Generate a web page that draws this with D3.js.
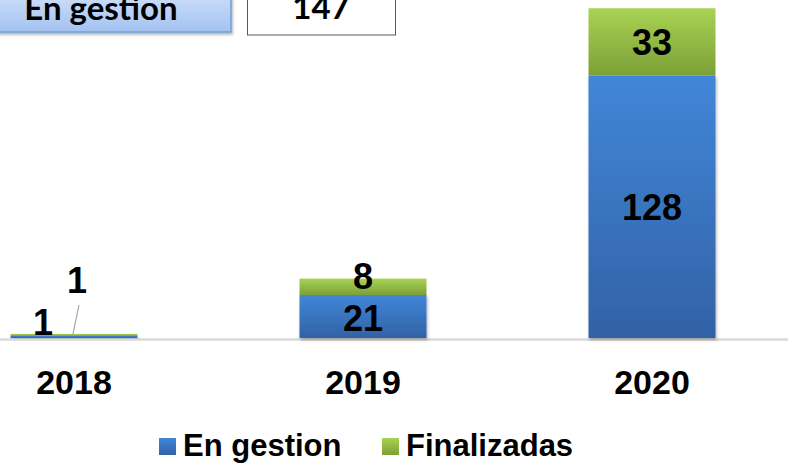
<!DOCTYPE html>
<html><head><meta charset="utf-8">
<script src="https://cdn.jsdelivr.net/npm/d3@7"></script>
<style>html,body{margin:0;padding:0;background:#fff;}svg{display:block;}</style>
</head><body>
<script>
const categories = ["2018", "2019", "2020"];
const enGestion = [1, 21, 128];
const finalizadas = [1, 8, 33];
const seriesNames = ["En gestion", "Finalizadas"];
const summaryLabel = "En gestion";
const summaryValue = 147;

const W = 788, H = 463;
const svg = d3.select("body").append("svg").attr("width", W).attr("height", H);
const defs = svg.append("defs");
function grad(id, c1, c2) {
  const g = defs.append("linearGradient").attr("id", id).attr("x1", 0).attr("y1", 0).attr("x2", 0).attr("y2", 1);
  g.append("stop").attr("offset", "0%").attr("stop-color", c1);
  g.append("stop").attr("offset", "100%").attr("stop-color", c2);
}
grad("gBlue", "#4186d8", "#3262a6");
grad("gGreen", "#a8d353", "#7d9f38");
grad("gBox", "#dce9fc", "#a3c2f1");
const sh = defs.append("filter").attr("id", "shadow").attr("x", "-10%").attr("y", "-10%").attr("width", "130%").attr("height", "130%");
sh.append("feDropShadow").attr("dx", 1).attr("dy", 2).attr("stdDeviation", 1.5).attr("flood-color", "#000").attr("flood-opacity", 0.3);

const x = d3.scalePoint().domain(categories).range([74, 652]);
const bw = 127;
const y = d3.scaleLinear().domain([0, 165]).range([338, 0]);

// baseline
svg.append("line").attr("x1", 0).attr("x2", W).attr("y1", y(0) + 1.5).attr("y2", y(0) + 1.5)
  .attr("stroke", "#d9d9d9").attr("stroke-width", 2.5);

const stackData = categories.map((c, i) => ({cat: c, "En gestion": enGestion[i], "Finalizadas": finalizadas[i]}));
const stacked = d3.stack().keys(seriesNames)(stackData);
const fills = ["url(#gBlue)", "url(#gGreen)"];

const gBars = svg.append("g");
stacked.forEach((s, si) => {
  gBars.selectAll(null).data(s).enter().append("rect")
    .attr("x", d => x(d.data.cat) - bw / 2)
    .attr("width", bw)
    .attr("y", d => y(d[1]))
    .attr("height", d => y(d[0]) - y(d[1]))
    .attr("fill", fills[si])
    .attr("filter", si === 0 ? "url(#shadow)" : null);
});

// data labels
const lab = svg.append("g").attr("font-family", "Liberation Sans, Arial, sans-serif")
  .attr("font-weight", "bold").attr("font-size", 36).attr("fill", "#000").attr("text-anchor", "middle");
stacked.forEach((s, si) => {
  s.forEach((d, i) => {
    let cx = x(d.data.cat), cy = (y(d[0]) + y(d[1])) / 2 + 13;
    if (i === 0) {
      if (si === 0) { cx = x(d.data.cat) - 31; cy = 335; }
      else { cx = x(d.data.cat) + 3; cy = 293; }
    } else if (i === 1 && si === 1) {
      cy = 289;
    } else if (i === 1 && si === 0) {
      cy = 331;
    }
    lab.append("text").attr("x", cx).attr("y", cy).text(si === 0 ? enGestion[i] : finalizadas[i]);
  });
});
// leader line for 2018
svg.append("line").attr("x1", x("2018") + 5).attr("y1", 305).attr("x2", x("2018") - 1).attr("y2", y(enGestion[0] + finalizadas[0]))
  .attr("stroke", "#a6a6a6").attr("stroke-width", 1.2);

// category labels
svg.append("g").selectAll("text").data(categories).enter().append("text")
  .attr("x", d => x(d)).attr("y", 394)
  .attr("text-anchor", "middle").attr("font-family", "Liberation Sans, Arial, sans-serif")
  .attr("font-weight", "bold").attr("font-size", 34).text(d => d);

// legend
const leg = svg.append("g").attr("font-family", "Liberation Sans, Arial, sans-serif").attr("font-weight", "bold").attr("font-size", 31);
const legX = [159, 382];
seriesNames.forEach((n, i) => {
  leg.append("rect").attr("x", legX[i]).attr("y", 438).attr("width", 17).attr("height", 17).attr("fill", fills[i]);
  leg.append("text").attr("x", legX[i] + 24).attr("y", 456).text(n);
});

// summary boxes
svg.append("rect").attr("x", -10).attr("y", -20).attr("width", 241).attr("height", 52)
  .attr("fill", "url(#gBox)").attr("stroke", "#6f9fdc").attr("stroke-width", 1.5).attr("filter", "url(#shadow)");
svg.append("text").attr("x", 101).attr("y", 20).attr("text-anchor", "middle")
  .attr("font-family", "Lato, sans-serif").attr("font-weight", "bold").attr("font-size", 33).text(summaryLabel);
svg.append("rect").attr("x", 247.5).attr("y", -20).attr("width", 148).attr("height", 55)
  .attr("fill", "#fff").attr("stroke", "#595959").attr("stroke-width", 1);
svg.append("text").attr("x", 321).attr("y", 19).attr("text-anchor", "middle")
  .attr("font-family", "Lato, sans-serif").attr("font-weight", "bold").attr("font-size", 33).text(summaryValue);
</script>
</body></html>
